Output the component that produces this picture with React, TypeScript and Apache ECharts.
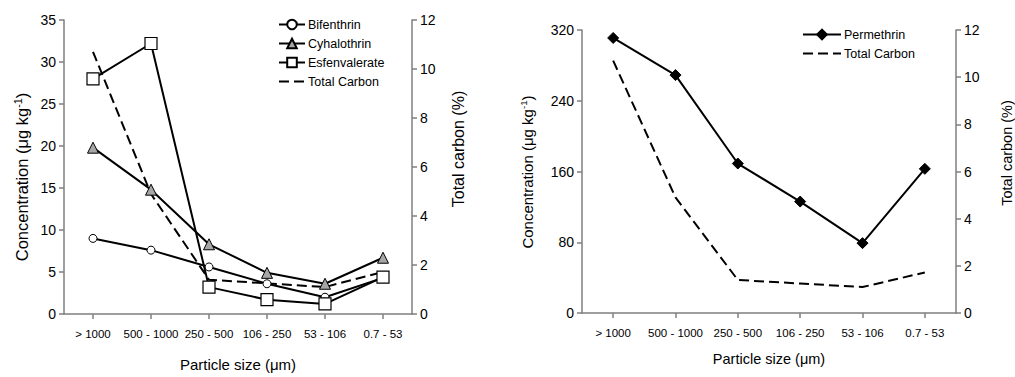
import React, { useEffect, useRef } from "react";
import * as echarts from "echarts";

const categories = ["> 1000", "500 - 1000", "250 - 500", "106 - 250", "53 - 106", "0.7 - 53"];
const bifenthrin = [9.0, 7.6, 5.6, 3.6, 2.0, 4.3];
const cyhalothrin = [19.8, 14.8, 8.3, 4.9, 3.6, 6.7];
const esfenvalerate = [28.0, 32.2, 3.2, 1.7, 1.2, 4.4];
const totalCarbon = [10.7, 4.9, 1.4, 1.25, 1.1, 1.72];
const permethrin = [311, 269, 169, 126, 79, 163];

const FONT = "Liberation Sans, Arial, sans-serif";
const AXIS_GREY = "#7f7f7f";

function concTitle(x: number, y: number, size: number) {
  return {
    type: "text",
    x,
    y,
    rotation: Math.PI / 2,
    style: {
      text: "{a|Concentration (μg kg}{s|-1}{a|)}",
      align: "center",
      verticalAlign: "middle",
      fill: "#000",
      fontFamily: FONT,
      fontSize: size,
      rich: {
        a: { fontSize: size, fontFamily: FONT, fill: "#000" },
        s: { fontSize: size * 0.65, fontFamily: FONT, fill: "#000", verticalAlign: "top", padding: [0, 0, size * 0.5, 0] },
      },
    },
  };
}

function carbonTitle(x: number, y: number, size: number) {
  return {
    type: "text",
    x,
    y,
    rotation: Math.PI / 2,
    style: {
      text: "Total carbon (%)",
      align: "center",
      verticalAlign: "middle",
      fill: "#000",
      fontFamily: FONT,
      fontSize: size,
    },
  };
}

export default function App() {
  const ref = useRef<HTMLDivElement>(null);
  useEffect(() => {
    if (!ref.current) return;
    const chart = echarts.init(ref.current, undefined, { renderer: "svg" });
    const axisLine = { show: true, lineStyle: { color: AXIS_GREY, width: 1.5 } };
    const axisTick = { show: true, inside: false, length: 5, lineStyle: { color: AXIS_GREY, width: 1.5 } };
    const yLabel = { color: "#000", fontSize: 14, fontFamily: FONT, margin: 8 };
    const xLabel = { color: "#000", fontSize: 11.5, fontFamily: FONT, margin: 14 };
    const nameStyle = { color: "#000", fontSize: 15, fontFamily: FONT };
    const solid = { color: "#000", width: 2 };
    const dashed = { color: "#000", width: 2, type: [10, 5] as any };
    const option: any = {
      animation: false,
      backgroundColor: "#fff",
      grid: [
        { left: 64, right: 603, top: 20, bottom: 63 },
        { left: 582, right: 59, top: 30, bottom: 64 },
      ],
      graphic: [
        concTitle(22, 177, 16.5),
        carbonTitle(458, 149, 16),
        concTitle(527, 172, 15),
        carbonTitle(1007, 153, 14.5),
      ],
      legend: [
        {
          left: 273,
          top: 13,
          orient: "vertical",
          itemGap: 6,
          itemWidth: 26,
          itemHeight: 12,
          textStyle: { fontSize: 12.5, fontFamily: FONT, color: "#000", padding: [0, 0, 0, -2] },
          data: ["Bifenthrin", "Cyhalothrin", "Esfenvalerate", { name: "Total Carbon", itemStyle: { opacity: 0 } }],
        },
        {
          left: 797,
          top: 23,
          orient: "vertical",
          itemGap: 6,
          itemWidth: 38,
          itemHeight: 12,
          textStyle: { fontSize: 12.5, fontFamily: FONT, color: "#000", padding: [0, 0, 0, -2] },
          data: ["Permethrin", { name: "Total Carbon ", itemStyle: { opacity: 0 } }],
        },
      ],
      xAxis: [
        {
          type: "category",
          gridIndex: 0,
          data: categories,
          boundaryGap: true,
          axisLine,
          axisTick: { ...axisTick, alignWithLabel: true },
          axisLabel: { ...xLabel, interval: 0 },
          name: "Particle size (μm)",
          nameLocation: "middle",
          nameGap: 43,
          nameTextStyle: nameStyle,
        },
        {
          type: "category",
          gridIndex: 1,
          data: categories,
          boundaryGap: true,
          axisLine,
          axisTick: { ...axisTick, alignWithLabel: true },
          axisLabel: { ...xLabel, interval: 0 },
          name: "Particle size (μm)",
          nameLocation: "middle",
          nameGap: 38,
          nameTextStyle: { ...nameStyle, fontSize: 14.5 },
        },
      ],
      yAxis: [
        {
          type: "value",
          gridIndex: 0,
          position: "left",
          min: 0,
          max: 35,
          interval: 5,
          splitLine: { show: false },
          axisLine,
          axisTick,
          axisLabel: yLabel,
        },
        {
          type: "value",
          gridIndex: 0,
          position: "right",
          min: 0,
          max: 12,
          interval: 2,
          splitLine: { show: false },
          axisLine,
          axisTick,
          axisLabel: yLabel,
        },
        {
          type: "value",
          gridIndex: 1,
          position: "left",
          min: 0,
          max: 320,
          interval: 80,
          splitLine: { show: false },
          axisLine,
          axisTick,
          axisLabel: yLabel,
        },
        {
          type: "value",
          gridIndex: 1,
          position: "right",
          min: 0,
          max: 12,
          interval: 2,
          splitLine: { show: false },
          axisLine,
          axisTick,
          axisLabel: yLabel,
        },
      ],
      series: [
        {
          name: "Total Carbon",
          type: "line",
          xAxisIndex: 0,
          yAxisIndex: 1,
          data: totalCarbon,
          showSymbol: false,
          symbol: "none",
          lineStyle: dashed,
          itemStyle: { color: "#000" },
          z: 1,
        },
        {
          name: "Bifenthrin",
          type: "line",
          xAxisIndex: 0,
          yAxisIndex: 0,
          data: bifenthrin,
          symbol: "circle",
          symbolSize: 8,
          lineStyle: solid,
          itemStyle: { color: "#fff", borderColor: "#000", borderWidth: 1 },
          z: 2,
        },
        {
          name: "Cyhalothrin",
          type: "line",
          xAxisIndex: 0,
          yAxisIndex: 0,
          data: cyhalothrin,
          symbol: "triangle",
          symbolSize: 11,
          lineStyle: solid,
          itemStyle: { color: "#a6a6a6", borderColor: "#000", borderWidth: 1 },
          z: 3,
        },
        {
          name: "Esfenvalerate",
          type: "line",
          xAxisIndex: 0,
          yAxisIndex: 0,
          data: esfenvalerate,
          symbol: "rect",
          symbolSize: 12,
          lineStyle: solid,
          itemStyle: { color: "#fff", borderColor: "#000", borderWidth: 1.2 },
          z: 4,
        },
        {
          name: "Total Carbon ",
          type: "line",
          xAxisIndex: 1,
          yAxisIndex: 3,
          data: totalCarbon,
          showSymbol: false,
          symbol: "none",
          lineStyle: dashed,
          itemStyle: { color: "#000" },
          z: 1,
        },
        {
          name: "Permethrin",
          type: "line",
          xAxisIndex: 1,
          yAxisIndex: 2,
          data: permethrin,
          symbol: "diamond",
          symbolSize: 11,
          lineStyle: solid,
          itemStyle: { color: "#000", borderColor: "#000", borderWidth: 1 },
          z: 2,
        },
      ],
    };
    chart.setOption(option);
    return () => chart.dispose();
  }, []);
  return (
    <div
      ref={ref}
      style={{ position: "fixed", left: 0, top: 0, width: 1015, height: 377, background: "#fff" }}
    />
  );
}
